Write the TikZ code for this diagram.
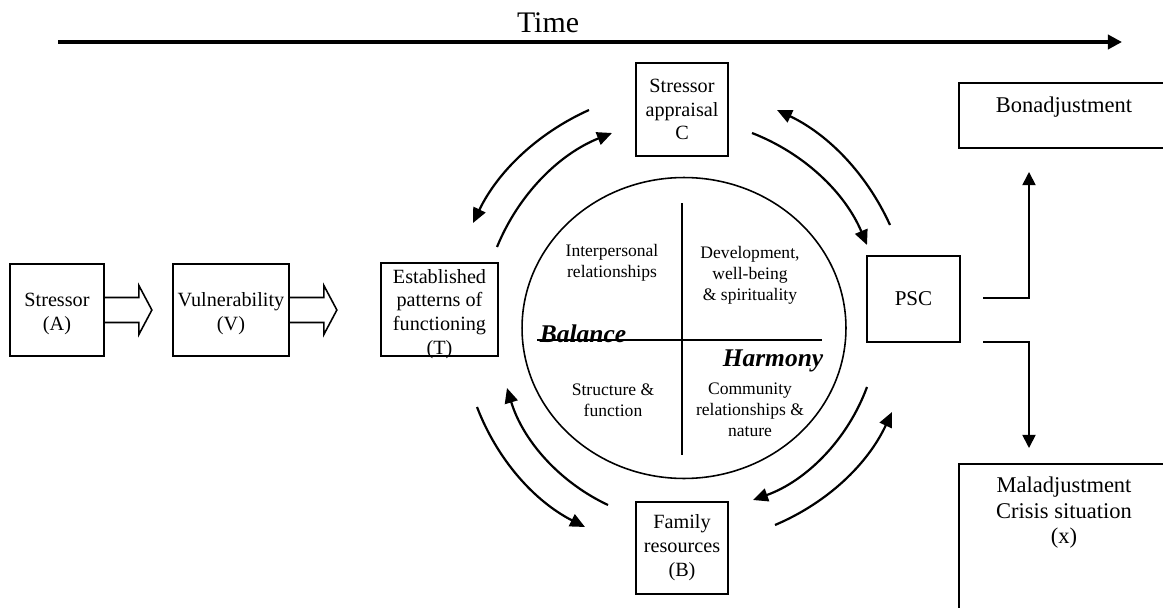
\documentclass[tikz,border=0pt]{standalone}
\usepackage{fontspec}
\setmainfont{Liberation Serif}
\usetikzlibrary{arrows.meta,calc,shapes.geometric}
\newcommand\bxfont{\fontsize{11.5}{13.6}\selectfont}
\newcommand\qdfont{\fontsize{10}{11.9}\selectfont}
\newcommand\rtfont{\fontsize{12.8}{14.3}\selectfont}
\begin{document}
\begin{tikzpicture}[x=0.02cm,y=-0.02cm,
  box/.style={draw, line width=1pt, inner sep=0pt, align=center, font=\bxfont},
  txt/.style={inner sep=0pt, align=center},
  conn/.style={line width=1pt, -{Triangle[length=7.5pt,width=7.5pt]}},
  cyc/.style={line width=1.25pt, looseness=0.9, -{Triangle[length=8.5pt,width=7.5pt]}},
  blockarrow/.style={line width=0.9pt, line join=miter},
  divider/.style={line width=0.9pt}]
\useasboundingbox (0,0) rectangle (1163,608);
\clip (0,0) rectangle (1163,608);

% time axis
\node[txt, anchor=base, font=\fontsize{17}{20}\selectfont] (time) at (548,33) {Time};
\coordinate (t0) at (58,42);
\coordinate (t1) at (1122,42);
\draw[line width=2pt, -{Triangle[length=8pt,width=8pt]}] (t0) -- (t1);

% left boxes
\node[box, minimum width=1.88cm, minimum height=1.84cm] (A) at (57,310) {};
\node[txt, font=\bxfont] (Atxt) at (57,314) {Stressor\\(A)};
\node[box, minimum width=2.32cm, minimum height=1.84cm] (V) at (231,310) {};
\node[txt, font=\bxfont] (Vtxt) at (231,314) {Vulnerability\\(V)};
\node[box, minimum width=2.34cm, minimum height=1.86cm] (T) at (439.5,309.5) {};
\node[txt, font=\bxfont] (Ttxt) at (439.5,314) {Established\\patterns of\\functioning\\(T)};

% block arrows
\draw[blockarrow] ($(A.east)+(0,-12.5)$) -- ++(34,0) -- ++(0,-12) -- ++(13,24.5) -- ++(-13,24.5) -- ++(0,-12) -- ++(-34,0);
\draw[blockarrow] ($(V.east)+(0,-12.5)$) -- ++(34,0) -- ++(0,-12) -- ++(13,24.5) -- ++(-13,24.5) -- ++(0,-12) -- ++(-34,0);

% central ellipse
\node[draw, ellipse, line width=0.9pt, inner sep=0pt, minimum width=6.48cm, minimum height=6.02cm] (E) at (684,328) {};
\coordinate (vt) at (682,203);
\coordinate (vb) at (682,455);
\coordinate (hl) at (537,340);
\coordinate (hr) at (822,340);
\draw[divider] (vt) -- (vb);
\draw[divider] (hl) -- (hr);

\node[txt, font=\qdfont] (q1) at (612,263) {Interpersonal\\relationships};
\node[txt, font=\qdfont] (q2) at (750,275) {Development,\\well-being\\\&~spirituality};
\node[txt, font=\qdfont] (q3) at (613,400) {Structure \&\\function};
\node[txt, font=\qdfont] (q4) at (750,410) {Community\\relationships \&\\nature};
\node[txt, anchor=base, font=\fontsize{14.5}{16}\selectfont\bfseries\itshape] (bal) at (583,342) {Balance};
\node[txt, anchor=base, font=\fontsize{14.5}{16}\selectfont\bfseries\itshape] (har) at (773,366) {Harmony};

% cycle boxes
\node[box, minimum width=1.84cm, minimum height=1.86cm] (C) at (682,109.5) {Stressor\\appraisal\\C};
\node[box, minimum width=1.84cm, minimum height=1.84cm] (B) at (682,548) {Family\\resources\\(B)};
\node[box, minimum width=1.86cm, minimum height=1.72cm, font=\fontsize{12}{14}\selectfont] (PSC) at (913.5,299) {PSC};

% cycle arcs
\coordinate (a1s) at (589,110); \coordinate (a1e) at (473,223);
\coordinate (a2s) at (497,247); \coordinate (a2e) at (612,133);
\coordinate (a3s) at (752,133); \coordinate (a3e) at (867,245);
\coordinate (a4s) at (890,225); \coordinate (a4e) at (777,110);
\coordinate (a5s) at (867,387); \coordinate (a5e) at (753,500);
\coordinate (a6s) at (775,525); \coordinate (a6e) at (892,412);
\coordinate (a7s) at (608,505); \coordinate (a7e) at (507,388);
\coordinate (a8s) at (477,407); \coordinate (a8e) at (585,527);
\draw[cyc] (a1s) to[bend right=20] (a1e);
\draw[cyc] (a2s) to[bend left=23] (a2e);
\draw[cyc] (a3s) to[bend left=23] (a3e);
\draw[cyc] (a4s) to[bend right=20] (a4e);
\draw[cyc] (a5s) to[bend left=25] (a5e);
\draw[cyc] (a6s) to[bend right=21] (a6e);
\draw[cyc] (a7s) to[bend left=24] (a7e);
\draw[cyc] (a8s) to[bend right=21] (a8e);

% outcome boxes
\draw[line width=1pt] (959,83) rectangle (1200,148);
\node[txt, font=\rtfont] (bon) at (1064,107) {Bonadjustment};
\draw[line width=1pt] (959,464) rectangle (1200,650);
\node[txt, font=\rtfont, anchor=north] (mal) at (1064,477) {Maladjustment\\Crisis situation\\(x)};

% outcome arrows
\coordinate (p1) at (983,298);
\coordinate (p2) at (983,342);
\coordinate (bt) at (1029,172);
\coordinate (mt) at (1029,448);
\draw[conn] (p1) -| (bt);
\draw[conn] (p2) -| (mt);
\end{tikzpicture}
\end{document}
